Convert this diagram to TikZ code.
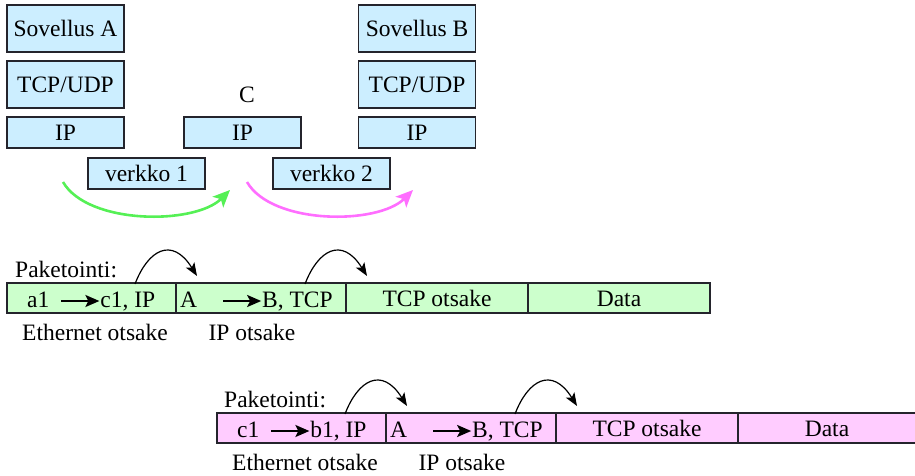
\documentclass[tikz,border=0pt]{standalone}
\usepackage{fontspec}
\setmainfont{LiberationSerif}[Extension=.ttf, UprightFont=*-Regular, BoldFont=*-Bold, ItalicFont=*-Italic]
\usetikzlibrary{arrows.meta}

\definecolor{boxblue}{RGB}{204,238,255}
\definecolor{cellgreen}{RGB}{204,255,204}
\definecolor{cellpink}{RGB}{255,204,255}
\definecolor{edgegray}{RGB}{36,36,44}
\definecolor{hopgreen}{RGB}{85,240,85}
\definecolor{hoppink}{RGB}{255,110,255}

% straight arrow used inside the header cells
\newcommand{\hdrarrow}{\tikz[baseline=0pt]\draw[line width=2pt,-{Stealth[length=14pt,width=12pt,inset=3pt]}] (0pt,6pt) -- (38pt,6pt);}

\begin{document}
\begin{tikzpicture}[x=1pt,y=-1pt,
  txt/.style={font=\fontsize{23.5}{28}\selectfont, inner sep=0pt},
  layer/.style={txt, draw=edgegray, line width=1.6pt, fill=boxblue,
    minimum width=117pt, text height=16pt, text depth=0pt},
  tall/.style={minimum height=47pt},
  flat/.style={minimum height=31pt},
  cell/.style={txt, draw=edgegray, line width=1.6pt, minimum height=30pt,
    text height=16pt, text depth=0pt},
  gcell/.style={cell, fill=cellgreen},
  pcell/.style={cell, fill=cellpink},
  hop/.style={line width=2.6pt, -{Stealth[length=17pt,width=15pt,inset=4pt]}},
  wrap/.style={line width=1.2pt, -{Stealth[length=13pt,width=10pt,inset=3pt]}}
]
\useasboundingbox (0,0) rectangle (915,476);

% protocol stacks
\node[layer,tall] (sovA) at (65.5,28.5) {Sovellus A};
\node[layer,tall] (tcpA) at (65.5,84.5) {TCP/UDP};
\node[layer,flat] (ipA)  at (65.5,132.5) {IP};
\node[layer,flat] (ipC)  at (242.5,132.5) {IP};
\node[txt, text height=16pt, text depth=0pt] (routerC) at (247,95) {C};
\node[layer,tall] (sovB) at (417,28.5) {Sovellus B};
\node[layer,tall] (tcpB) at (417,84.5) {TCP/UDP};
\node[layer,flat] (ipB)  at (417,132.5) {IP};
\node[layer,flat] (net1) at (146.5,173.5) {verkko 1};
\node[layer,flat] (net2) at (331.5,173.5) {verkko 2};

% hops through the networks
\coordinate (g1s) at (63,182);  \coordinate (g1e) at (230,190);
\coordinate (p1s) at (247,182); \coordinate (p1e) at (413,190);
\draw[hop, hopgreen] (g1s) .. controls +(25,43) and +(-35,35) .. (g1e);
\draw[hop, hoppink]  (p1s) .. controls +(25,43) and +(-35,35) .. (p1e);

% first frame (verkko 1)
\node[txt, anchor=base west] (pak1) at (15,277) {Paketointi:};
\node[gcell, minimum width=169pt] (eth1)  at (91.5,298) {};
\node[gcell, minimum width=170pt] (ip1)   at (261,298) {};
\node[gcell, minimum width=182pt] (tcp1)  at (437,298) {TCP otsake};
\node[gcell, minimum width=182pt] (data1) at (619,298) {Data};
\node[txt, anchor=base west] (eth1t) at (27,307) {a1\hspace{11pt}\hdrarrow{}c1, IP};
\node[txt, anchor=base west] (ip1t)  at (180,307) {A\hspace{25pt}\hdrarrow{}B, TCP};
\node[txt, anchor=base] (eth1l) at (95,340) {Ethernet otsake};
\node[txt, anchor=base] (ip1l)  at (252,340) {IP otsake};
\coordinate (w1s) at (135,284); \coordinate (w1e) at (197,276);
\coordinate (w2s) at (305,284); \coordinate (w2e) at (367,276);
\draw[wrap] (w1s) .. controls +(13,-34) and +(-25,-40) .. (w1e);
\draw[wrap] (w2s) .. controls +(13,-34) and +(-25,-40) .. (w2e);

% second frame (verkko 2)
\node[txt, anchor=base west] (pak2) at (224,407) {Paketointi:};
\node[pcell, minimum width=169pt] (eth2)  at (301.5,428) {};
\node[pcell, minimum width=170pt] (ip2)   at (471,428) {};
\node[pcell, minimum width=182pt] (tcp2)  at (647,428) {TCP otsake};
\node[pcell, minimum width=182pt, text width=182pt, align=center] (data2) at (829,428) {\hspace*{-4pt}Data};
\node[txt, anchor=base west] (eth2t) at (237,437) {c1\hspace{11pt}\hdrarrow{}b1, IP};
\node[txt, anchor=base west] (ip2t)  at (390,437) {A\hspace{25pt}\hdrarrow{}B, TCP};
\node[txt, anchor=base] (eth2l) at (305,470) {Ethernet otsake};
\node[txt, anchor=base] (ip2l)  at (462,470) {IP otsake};
\coordinate (w3s) at (345,414); \coordinate (w3e) at (407,406);
\coordinate (w4s) at (515,414); \coordinate (w4e) at (577,406);
\draw[wrap] (w3s) .. controls +(13,-34) and +(-25,-40) .. (w3e);
\draw[wrap] (w4s) .. controls +(13,-34) and +(-25,-40) .. (w4e);
\end{tikzpicture}
\end{document}
